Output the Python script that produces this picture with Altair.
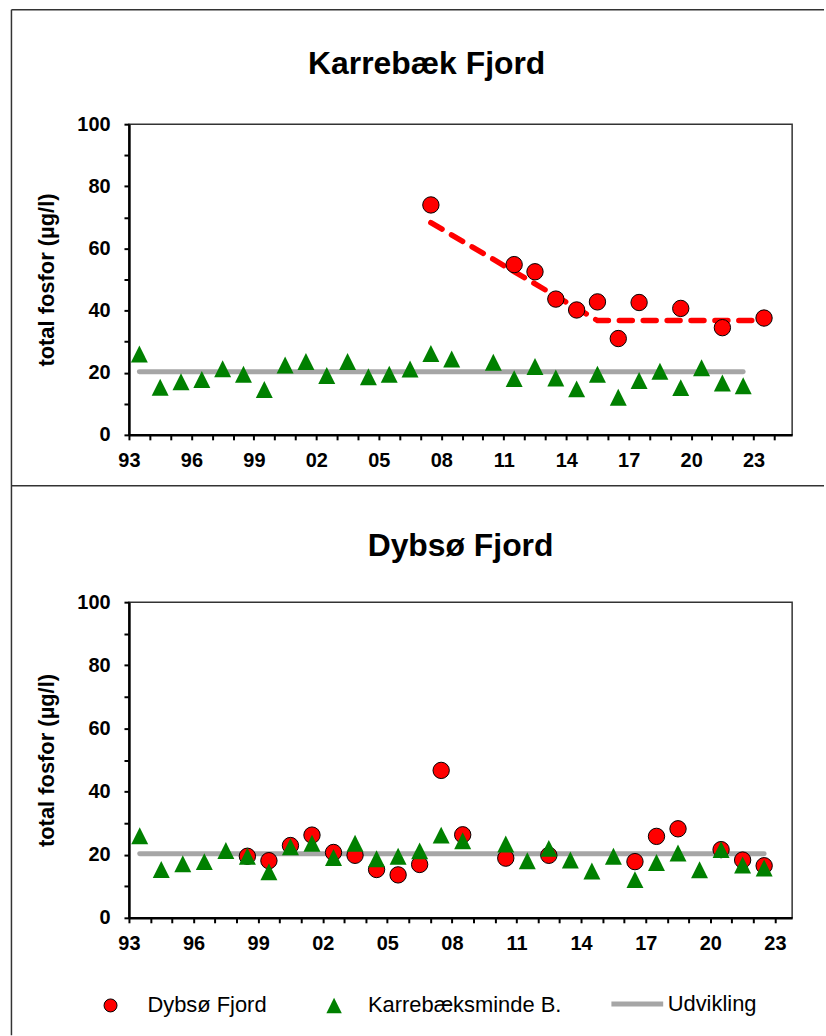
import altair as alt
import pandas as pd

FONT = "Liberation Sans"

# ---- data ----
panel_titles = ["Karrebæk Fjord", "Dybsø Fjord"]
legend_labels = ["Dybsø Fjord", "Karrebæksminde B.", "Udvikling"]
y_axis_title = "total fosfor (µg/l)"

# Karrebæksminde B. (triangles, same in both panels)
kb_years = [1993, 1994, 1995, 1996, 1997, 1998, 1999, 2000, 2001, 2002, 2003, 2004, 2005, 2006, 2007, 2008,
            2010, 2011, 2012, 2013, 2014, 2015, 2016, 2017, 2018, 2019, 2020, 2021, 2022]
kb_values = [26.0, 15.3, 17.1, 17.8, 21.3, 19.5, 14.6, 22.5, 23.6, 19.1, 23.6, 18.7, 19.5, 21.2, 26.2, 24.4,
             23.4, 18.1, 22.0, 18.3, 14.8, 19.5, 12.1, 17.5, 20.5, 15.2, 21.6, 16.7, 15.8]

# Karrebæk Fjord (red circles, top panel)
karrebaek_years = [2007, 2011, 2012, 2013, 2014, 2015, 2016, 2017, 2019, 2021, 2023]
karrebaek_values = [74.0, 54.8, 52.5, 43.7, 40.2, 42.8, 31.0, 42.6, 40.7, 34.5, 37.6]

# Karrebæk Fjord development (red dashed)
karrebaek_trend_years = [2007, 2015, 2023]
karrebaek_trend_values = [68.3, 36.8, 36.8]

# Dybsø Fjord (red circles, bottom panel)
dybso_years = [1998, 1999, 2000, 2001, 2002, 2003, 2004, 2005, 2006, 2007, 2008, 2010, 2012,
               2016, 2017, 2018, 2020, 2021, 2022]
dybso_values = [19.5, 18.1, 22.9, 26.2, 20.7, 19.8, 15.3, 13.6, 16.9, 46.7, 26.3, 18.9, 19.8,
                17.8, 25.8, 28.2, 21.6, 18.3, 16.5]

# Karrebæksminde B. development (grey line)
udvikling_years = [1993, 2022]
udvikling_values = [20.3, 20.3]

x_ticks_top = list(range(1993, 2025))
x_ticks_bottom = list(range(1993, 2024))
y_ticks = [0, 10, 20, 30, 40, 50, 60, 70, 80, 90, 100]

TRI = "M0,-1L1,1L-1,1Z"
RED = "#ff0000"
GREEN = "#008000"
GREY = "#a6a6a6"


def df(years, values, series=None):
    d = pd.DataFrame({"year": years, "value": values})
    if series is not None:
        d["series"] = series
    return d


def x_enc(dmax, ticks):
    return alt.X(
        "x:Q",
        scale=alt.Scale(domain=[1993, dmax], nice=False, zero=False),
        axis=alt.Axis(
            values=ticks,
            labelExpr="(datum.value - 1993) % 3 === 0 ? slice(toString(datum.value), 2) : ''",
            title=None, labelFlush=False, labelOverlap=False, labelPadding=11,
        ),
    )


y_enc = alt.Y(
    "value:Q",
    scale=alt.Scale(domain=[0, 100], nice=False, zero=True),
    axis=alt.Axis(
        values=y_ticks,
        labelExpr="datum.value % 20 === 0 ? datum.label : ''",
        title=y_axis_title, labelFlush=False, labelOverlap=False, labelPadding=14, titlePadding=18,
    ),
)


def leg(x, y, stype, ssize, sstroke, swidth, loffset):
    return alt.Legend(
        orient="none", direction="horizontal", legendX=x, legendY=y, title=None,
        labelFont=FONT, labelFontSize=22, labelColor="black", labelFontWeight="normal", labelLimit=400,
        symbolType=stype, symbolSize=ssize, symbolStrokeColor=sstroke, symbolStrokeWidth=swidth,
        labelOffset=loffset, symbolOpacity=1,
    )


def panel(title, dmax, ticks, circle_data, trend_data, title_offset, title_dx, legend=False, borders=False):
    X = x_enc(dmax, ticks)
    layers = []
    gdata = df(udvikling_years, udvikling_values, legend_labels[2])
    if legend:
        grey = alt.Chart(gdata).transform_calculate(x="datum.year + 0.5").mark_line(
            strokeWidth=5, strokeCap="round").encode(
            x=X, y=y_enc,
            stroke=alt.Stroke("series:N", scale=alt.Scale(domain=[legend_labels[2]], range=[GREY]),
                              legend=leg(482, 375, "stroke", 2704, GREY, 5, 2)))
    else:
        grey = alt.Chart(gdata).transform_calculate(x="datum.year + 0.5").mark_line(
            color=GREY, strokeWidth=5, strokeCap="round").encode(x=X, y=y_enc)
    layers.append(grey)
    if trend_data is not None:
        red_line = alt.Chart(trend_data).transform_calculate(x="datum.year + 0.5").mark_line(
            color=RED, strokeWidth=5.5, strokeDash=[13, 11], strokeCap="round").encode(x=X, y=y_enc)
        layers.append(red_line)
    if legend:
        circles = alt.Chart(circle_data).transform_calculate(x="datum.year + 0.5").mark_point(
            shape="circle", filled=True, stroke="black", strokeWidth=1, size=270, opacity=1).encode(
            x=X, y=y_enc,
            color=alt.Color("series:N", scale=alt.Scale(domain=[legend_labels[0]], range=[RED]),
                            legend=leg(-29.5, 394, "circle", 170, "black", 1, 26)),
        )
    else:
        circles = alt.Chart(circle_data).transform_calculate(x="datum.year + 0.5").mark_point(
            shape="circle", filled=True, fill=RED, stroke="black", strokeWidth=1, size=270, opacity=1).encode(
            x=X, y=y_enc)
    layers.append(circles)
    tdata = df(kb_years, kb_values, legend_labels[1])
    if legend:
        tri = alt.Chart(tdata).transform_calculate(x="datum.year + 0.5").mark_point(
            shape=TRI, filled=True, strokeWidth=0, size=290, opacity=1).encode(
            x=X, y=y_enc,
            fill=alt.Fill("series:N", scale=alt.Scale(domain=[legend_labels[1]], range=[GREEN]),
                          legend=leg(195, 394, TRI, 240, GREEN, 0, 23)))
    else:
        tri = alt.Chart(tdata).transform_calculate(x="datum.year + 0.5").mark_point(
            shape=TRI, filled=True, color=GREEN, strokeWidth=0, size=290, opacity=1).encode(x=X, y=y_enc)
    layers.append(tri)
    if borders:
        one = pd.DataFrame({"k": [0]})
        bc = "#333333"
        layers.append(alt.Chart(one).mark_rule(color=bc, strokeWidth=1.5).encode(
            x=alt.value(-118), y=alt.value(-115), y2=alt.value(915)))
        layers.append(alt.Chart(one).mark_rule(color=bc, strokeWidth=1.5).encode(
            x=alt.value(-118), x2=alt.value(698), y=alt.value(-115)))
        layers.append(alt.Chart(one).mark_rule(color=bc, strokeWidth=1.5).encode(
            x=alt.value(-118), x2=alt.value(698), y=alt.value(363)))
    return alt.layer(*layers).properties(
        width=666, height=312 if borders else 317,
        title=alt.TitleParams(text=title, font=FONT, fontSize=32, fontWeight="bold", color="black",
                              anchor="middle", frame="group", offset=title_offset, dx=title_dx,
                              baseline="alphabetic"),
    )


top = panel(panel_titles[0], 2024.85, x_ticks_top, df(karrebaek_years, karrebaek_values),
            df(karrebaek_trend_years, karrebaek_trend_values), -97, -34, legend=False, borders=True)
bottom = panel(panel_titles[1], 2023.8, x_ticks_bottom, df(dybso_years, dybso_values, legend_labels[0]),
               None, 4, 0, legend=True, borders=False)

chart = alt.vconcat(top, bottom, spacing=168, bounds="flush").resolve_legend(
    color="independent", fill="independent", stroke="independent").properties(
    padding={"left": 9.5, "top": 5.5, "right": 0, "bottom": 0},
    autosize=alt.AutoSizeParams(type="pad"),
).configure(font=FONT).configure_view(stroke="#333333", strokeWidth=1.5).configure_axis(
    labelFont=FONT, labelFontSize=20, labelFontWeight="bold", labelColor="black",
    titleFont=FONT, titleFontSize=22, titleFontWeight="bold", titleColor="black",
    domainColor="black", domainWidth=2.5, tickColor="black", tickWidth=2, tickSize=5, grid=False,
)

chart.save("out.html", embed_options={"renderer": "svg", "actions": False})
